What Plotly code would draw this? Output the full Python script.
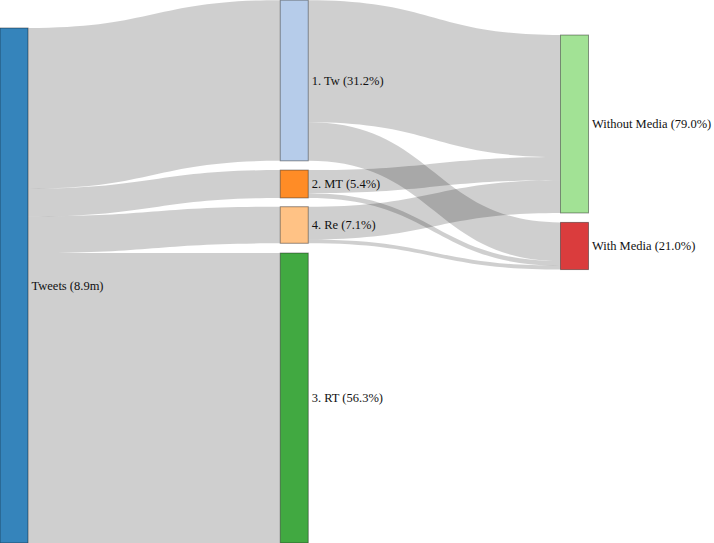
import plotly.graph_objects as go

# ---- data (values in millions of tweets) ----
node_labels = ["Tweets (8.9m)", "1. Tw (31.2%)", "2. MT (5.4%)", "4. Re (7.1%)",
               "3. RT (56.3%)", "Without Media (79.0%)", "With Media (21.0%)", ""]
link_source = [0, 0, 0, 0, 1, 1, 2, 2, 3, 3]
link_target = [1, 2, 3, 4, 5, 6, 5, 6, 5, 6]
link_value = [2.777, 0.481, 0.632, 5.011, 2.110, 0.667, 0.400, 0.081, 0.565, 0.067]

# ---- styling ----
node_colors = ["rgba(31,119,180,0.9)", "rgba(174,199,232,0.9)", "rgba(255,127,14,0.9)",
               "rgba(255,187,120,0.9)", "rgba(44,160,44,0.9)", "rgba(152,223,138,0.9)",
               "rgba(214,39,40,0.9)", "rgba(0,0,0,0)"]
link_colors = ["rgba(0,0,0,0.19)"] * len(link_value)

# invisible spacer column (off-canvas) so the media labels sit to the right of their nodes
sources = link_source + [6]
targets = link_target + [7]
values = link_value + [1e-6]
link_colors = link_colors + ["rgba(0,0,0,0)"]

W, H = 714, 543
px_x = [14, 294.25, 294.25, 294.25, 294.25, 574.5, 574.5, 700]
px_y = [285.5, 80.5, 184, 225, 398, 124, 246, 700]
node_x = [v / W for v in px_x]
node_y = [v / H for v in px_y]

font_family = "'Liberation Serif', 'Times New Roman', Times, serif"

fig = go.Figure(go.Sankey(
    arrangement="fixed",
    node=dict(
        label=node_labels,
        color=node_colors,
        line=dict(color="rgba(0,0,0,0.4)", width=1),
        thickness=28,
        pad=9.33,
        x=node_x,
        y=node_y,
        align="left",
        hoverinfo="none",
    ),
    link=dict(
        source=sources,
        target=targets,
        value=values,
        color=link_colors,
        hoverinfo="none",
    ),
    textfont=dict(family=font_family, size=12.5, color="#111", shadow="none"),
))

fig.update_layout(
    width=W, height=H,
    margin=dict(l=0, r=0, t=0, b=0),
    paper_bgcolor="white",
    font=dict(family=font_family, size=12.5),
)

fig.write_html(
    "out.html",
    config={"displayModeBar": False},
    post_script="document.body.style.margin='0';document.body.style.overflow='hidden';",
)
